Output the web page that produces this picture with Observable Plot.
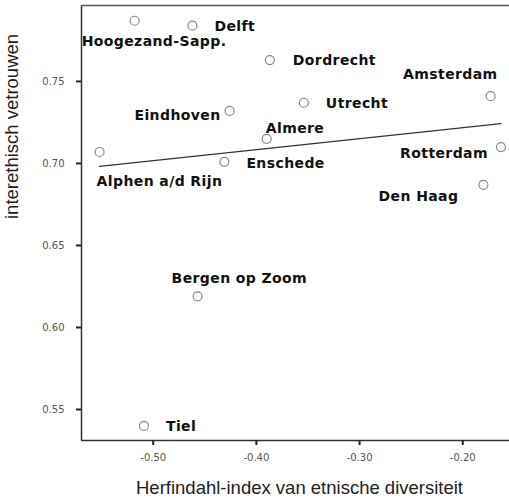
<!DOCTYPE html>
<html>
<head>
<meta charset="utf-8">
<script src="https://cdn.jsdelivr.net/npm/d3@7"></script>
<script src="https://cdn.jsdelivr.net/npm/@observablehq/plot@0.6"></script>
<style>
  html, body { margin: 0; padding: 0; background: #fff; }
  #chart svg { display: block; }
</style>
</head>
<body>
<div id="chart"></div>
<script>
// Data
const cities = ["Hoogezand-Sapp.", "Delft", "Dordrecht", "Amsterdam", "Utrecht", "Eindhoven", "Almere",
  "Alphen a/d Rijn", "Enschede", "Rotterdam", "Den Haag", "Bergen op Zoom", "Tiel"];
const diversity = [-0.518, -0.462, -0.387, -0.173, -0.354, -0.426, -0.390,
  -0.552, -0.431, -0.163, -0.180, -0.457, -0.509];
const trust = [0.787, 0.784, 0.763, 0.741, 0.737, 0.732, 0.715,
  0.707, 0.701, 0.710, 0.687, 0.619, 0.540];
const xTicks = [-0.50, -0.40, -0.30, -0.20];
const yTicks = [0.55, 0.60, 0.65, 0.70, 0.75];
const xTitle = "Herfindahl-index van etnische diversiteit";
const yTitle = "interethisch vetrouwen";

// Label placement (layout only)
const labelLayout = [
  {anchor: "start", dx: -53, dy: 21},
  {anchor: "start", dx: 22, dy: 1},
  {anchor: "start", dx: 23, dy: 0},
  {anchor: "end", dx: 7, dy: -22},
  {anchor: "start", dx: 22, dy: 1},
  {anchor: "end", dx: -9, dy: 5},
  {anchor: "start", dx: -1, dy: -10},
  {anchor: "start", dx: -3, dy: 30},
  {anchor: "start", dx: 22, dy: 2},
  {anchor: "end", dx: -13, dy: 6},
  {anchor: "end", dx: -25, dy: 12},
  {anchor: "start", dx: -26, dy: -18},
  {anchor: "start", dx: 22, dy: 1}
];

const data = cities.map((c, i) => ({city: c, x: diversity[i], y: trust[i]}));

const labelMarks = data.map((d, i) => Plot.text([d], {
  x: "x", y: "y", text: "city",
  textAnchor: labelLayout[i].anchor,
  dx: labelLayout[i].dx, dy: labelLayout[i].dy,
  fontFamily: "DejaVu Sans", fontWeight: "bold", fontSize: 14,
  fill: "#111",
  lineAnchor: "middle",
  className: "citylabel"
}));

const chart = Plot.plot({
  width: 509,
  height: 499,
  marginLeft: 81,
  marginTop: 5,
  marginBottom: 59,
  marginRight: 0,
  style: {background: "#fff", overflow: "hidden"},
  x: {domain: [-0.5695, -0.1547], ticks: xTicks, tickFormat: d => d.toFixed(2), label: null},
  y: {domain: [0.5311, 0.7963], ticks: yTicks, tickFormat: d => d.toFixed(2), label: null},
  marks: [
    Plot.ruleX([-0.5695], {stroke: "#333", strokeWidth: 1.5}),
    Plot.ruleY([0.5311], {stroke: "#333", strokeWidth: 1.5}),
    Plot.ruleY([0.7963], {stroke: "#555", strokeWidth: 1.5}),
    Plot.axisX({ticks: xTicks, tickFormat: d => d.toFixed(2), tickSize: 5, tickPadding: 8,
      fontSize: 10, fontFamily: "DejaVu Sans", fill: "#555", stroke: "#222", strokeWidth: 2, label: null}),
    Plot.axisY({ticks: yTicks, tickFormat: d => d.toFixed(2), tickSize: 5, tickPadding: 12,
      fontSize: 10, fontFamily: "DejaVu Sans", fill: "#555", stroke: "#222", strokeWidth: 2, label: null}),
    Plot.text([xTitle], {frameAnchor: "bottom", text: d => d, dx: 4, dy: 48, fontSize: 18.5,
      fontFamily: "Liberation Sans", fill: "#222", lineAnchor: "middle"}),
    Plot.text([yTitle], {frameAnchor: "left", text: d => d, dx: -69, dy: -4, rotate: -90, fontSize: 18.5,
      fontFamily: "Liberation Sans", fill: "#222", lineAnchor: "middle"}),
    Plot.linearRegressionY(data, {x: "x", y: "y", ci: 0, stroke: "#333", strokeWidth: 1.2}),
    Plot.dot(data, {x: "x", y: "y", r: 4.5, stroke: "#888", strokeWidth: 1.2, fill: "#fff"}),
    ...labelMarks
  ]
});

chart.querySelectorAll("g.citylabel").forEach(g => g.setAttribute("letter-spacing", "0.4"));

document.getElementById("chart").appendChild(chart);
</script>
</body>
</html>
